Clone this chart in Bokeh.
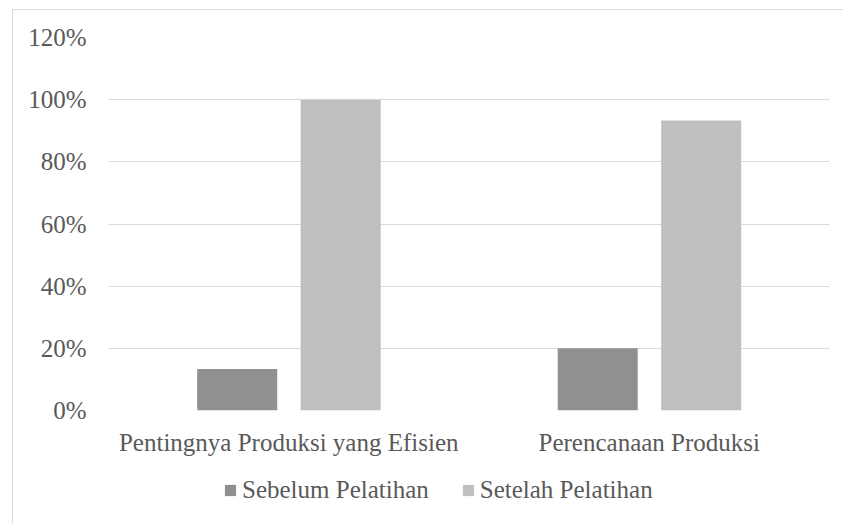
from bokeh.plotting import figure
from bokeh.layouts import column
from bokeh.models import ColumnDataSource, FactorRange, NumeralTickFormatter, Legend, LegendItem, FixedTicker
from bokeh.transform import dodge
from bokeh.embed import file_html
from bokeh.resources import INLINE

categories = ["Pentingnya Produksi yang Efisien", "Perencanaan Produksi"]
sebelum = [0.1333, 0.20]
setelah = [1.00, 0.9333]
series_names = ["Sebelum Pelatihan", "Setelah Pelatihan"]
y_ticks = [0, 0.2, 0.4, 0.6, 0.8, 1.0, 1.2]
colors = ["#909090", "#bfbfbf"]

FONT = "Liberation Serif"
TXT = "#595959"
FS = "25px"

src = ColumnDataSource(dict(cat=categories, sebelum=sebelum, setelah=setelah))

p = figure(x_range=FactorRange(*categories, range_padding=0), y_range=(0, 1.2),
           width=831, height=450, output_backend="svg", toolbar_location=None,
           min_border_left=95, min_border_right=15, min_border_top=27, min_border_bottom=50)
p.outline_line_color = None

p.vbar(x=dodge("cat", -0.143, range=p.x_range), top="sebelum", width=0.222, source=src,
       fill_color=colors[0], line_color=None)
p.vbar(x=dodge("cat", 0.144, range=p.x_range), top="setelah", width=0.222, source=src,
       fill_color=colors[1], line_color=None)

p.yaxis.ticker = FixedTicker(ticks=y_ticks)
p.yaxis.formatter = NumeralTickFormatter(format="0%")
for ax in (p.xaxis[0], p.yaxis[0]):
    ax.axis_line_color = None
    ax.major_tick_line_color = None
    ax.minor_tick_line_color = None
    ax.major_label_text_font = FONT
    ax.major_label_text_color = TXT
    ax.major_label_text_font_size = FS
p.yaxis.major_tick_out = 0
p.yaxis.major_tick_in = 0
p.yaxis.major_label_standoff = 22
p.xaxis.major_label_standoff = 12
p.xgrid.grid_line_color = None
p.ygrid.grid_line_color = "#d9d9d9"
p.ygrid.grid_line_width = 1.2
p.ygrid.ticker = FixedTicker(ticks=y_ticks)

# legend strip (its renderers sit outside the visible range; only the legend shows)
p2 = figure(width=831, height=63, output_backend="svg", toolbar_location=None,
            x_axis_type=None, y_axis_type=None, min_border=0, x_range=(0, 1), y_range=(0, 1))
p2.outline_line_color = None
p2.grid.visible = False
l1 = p2.vbar(x=[-10], top=[0], width=0.1, fill_color=colors[0], line_color=None)
l2 = p2.vbar(x=[-10], top=[0], width=0.1, fill_color=colors[1], line_color=None)
legend = Legend(items=[LegendItem(label=series_names[0], renderers=[l1]),
                       LegendItem(label=series_names[1], renderers=[l2])],
                orientation="horizontal", location=(115, 19),
                label_text_font=FONT, label_text_color=TXT, label_text_font_size=FS,
                glyph_width=14, glyph_height=14, spacing=32, label_standoff=5,
                border_line_color=None, background_fill_alpha=0, padding=0, margin=0)
p2.add_layout(legend, "center")

layout = column(p, p2, spacing=0, margin=(9, 0, 0, 12),
                styles={"border-left": "1px solid #d9d9d9", "border-top": "1px solid #d9d9d9"})

open("out.html", "w").write(file_html(layout, INLINE))
